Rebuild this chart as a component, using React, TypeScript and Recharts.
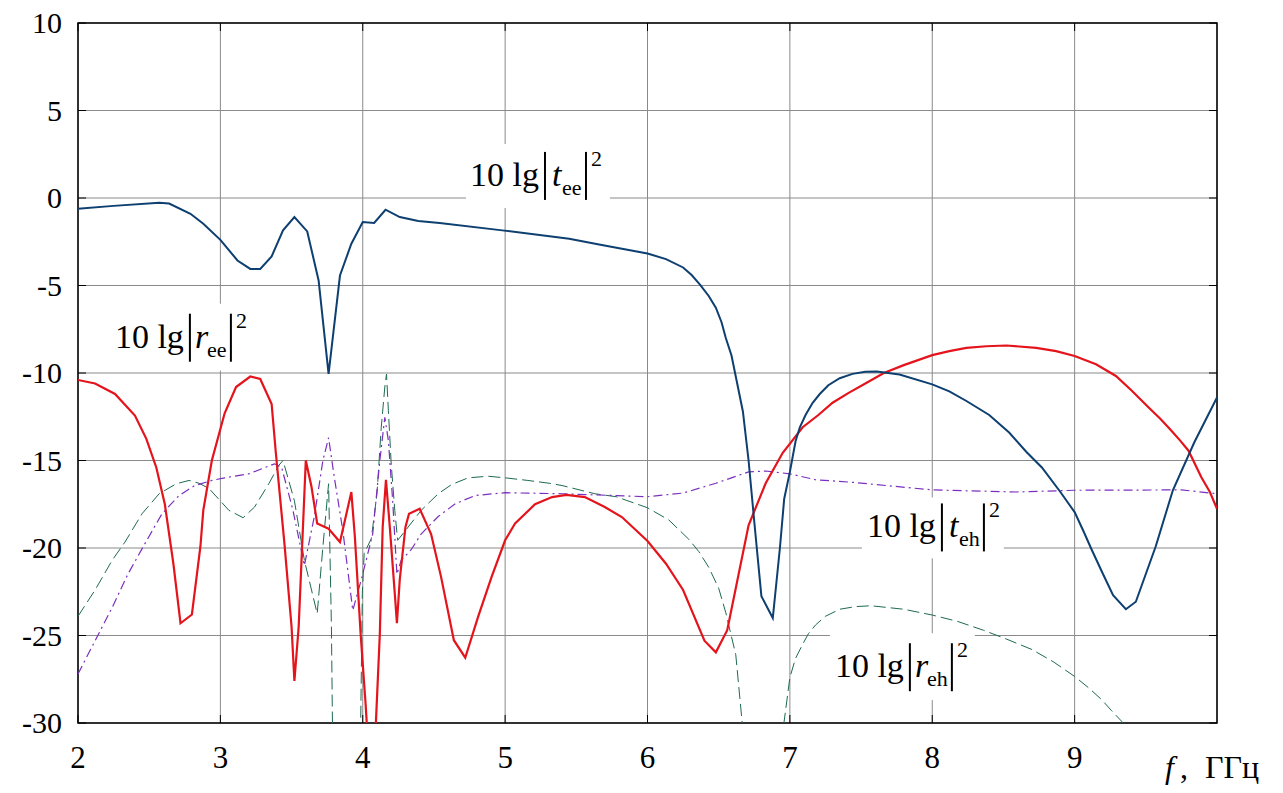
import React from "react";
import { LineChart, Line, XAxis, YAxis, CartesianGrid, ReferenceArea } from "recharts";

// |t_ee|^2, dB
const fTee = [2.0, 2.25, 2.57, 2.64, 2.79, 2.88, 3.0, 3.12, 3.21, 3.28, 3.36, 3.44, 3.52, 3.61, 3.69, 3.76, 3.84, 3.92, 4.0, 4.08, 4.16, 4.26, 4.39, 4.54, 4.98, 5.45, 5.66, 6.0, 6.13, 6.25, 6.31, 6.37, 6.43, 6.48, 6.52, 6.55, 6.59, 6.62, 6.67, 6.71, 6.75, 6.8, 6.88, 6.93, 6.96, 7.0, 7.04, 7.07, 7.11, 7.16, 7.21, 7.27, 7.35, 7.44, 7.53, 7.61, 7.77, 8.0, 8.12, 8.24, 8.4, 8.54, 8.66, 8.77, 8.9, 9.0, 9.06, 9.12, 9.2, 9.27, 9.36, 9.43, 9.57, 9.69, 9.84, 10.0];
const vTee = [-0.61, -0.45, -0.27, -0.32, -0.9, -1.47, -2.39, -3.57, -4.05, -4.05, -3.34, -1.85, -1.09, -1.91, -4.71, -10.05, -4.43, -2.61, -1.37, -1.43, -0.67, -1.09, -1.32, -1.43, -1.85, -2.33, -2.66, -3.17, -3.49, -3.97, -4.4, -4.96, -5.6, -6.27, -7.1, -8.0, -9.0, -10.2, -12.2, -15.0, -18.5, -22.75, -24.0, -20.0, -17.2, -15.65, -13.9, -13.1, -12.4, -11.7, -11.2, -10.7, -10.3, -10.05, -9.93, -9.92, -10.09, -10.65, -11.05, -11.6, -12.4, -13.4, -14.5, -15.4, -16.8, -17.95, -19.0, -20.1, -21.5, -22.7, -23.5, -23.07, -19.9, -16.7, -13.97, -11.4];

// |r_ee|^2, dB
const fRee = [2.0, 2.12, 2.26, 2.4, 2.48, 2.55, 2.61, 2.67, 2.72, 2.8, 2.86, 2.88, 2.94, 3.03, 3.11, 3.21, 3.28, 3.36, 3.39, 3.45, 3.5, 3.52, 3.55, 3.58, 3.6, 3.64, 3.68, 3.76, 3.84, 3.92, 3.945, 3.985, 4.02, 4.065, 4.12, 4.14, 4.163, 4.19, 4.225, 4.24, 4.26, 4.3, 4.325, 4.4, 4.48, 4.55, 4.64, 4.72, 4.81, 4.905, 5.0, 5.07, 5.21, 5.33, 5.43, 5.56, 5.7, 5.82, 6.0, 6.13, 6.25, 6.4, 6.48, 6.56, 6.71, 6.83, 6.95, 7.09, 7.2, 7.3, 7.41, 7.53, 7.66, 7.8, 8.0, 8.12, 8.24, 8.38, 8.52, 8.73, 8.87, 9.0, 9.15, 9.29, 9.4, 9.52, 9.6, 9.68, 9.74, 9.8, 9.89, 9.95, 10.0];
const vRee = [-10.4, -10.6, -11.2, -12.43, -13.76, -15.4, -17.5, -20.9, -24.3, -23.8, -19.9, -17.85, -15.0, -12.3, -10.8, -10.2, -10.34, -11.77, -14.6, -19.75, -24.5, -27.6, -24.5, -18.8, -15.0, -16.5, -18.6, -18.9, -19.66, -16.8, -19.4, -24.9, -28.9, -35, -24.9, -18.8, -16.1, -18.8, -22.6, -24.3, -21.8, -18.8, -18.04, -17.76, -19.2, -21.65, -25.27, -26.27, -23.94, -21.65, -19.56, -18.6, -17.5, -17.09, -16.96, -17.09, -17.66, -18.23, -19.6, -20.9, -22.4, -25.3, -25.96, -24.7, -18.7, -16.3, -14.56, -13.1, -12.4, -11.7, -11.15, -10.6, -10.0, -9.55, -8.98, -8.75, -8.56, -8.47, -8.43, -8.56, -8.75, -9.03, -9.5, -10.17, -11.0, -11.97, -12.6, -13.3, -13.85, -14.44, -15.96, -16.8, -17.76];

// |r_eh|^2, dB
const fReh = [2.0, 2.12, 2.24, 2.33, 2.45, 2.57, 2.69, 2.78, 2.85, 2.92, 3.01, 3.06, 3.16, 3.24, 3.34, 3.41, 3.44, 3.52, 3.59, 3.68, 3.72, 3.76, 3.78, 3.8, 3.97, 3.997, 4.01, 4.06, 4.1, 4.13, 4.155, 4.167, 4.18, 4.2, 4.225, 4.245, 4.3, 4.41, 4.53, 4.625, 4.74, 4.88, 5.0, 5.16, 5.31, 5.4, 5.63, 5.78, 6.0, 6.15, 6.29, 6.36, 6.43, 6.5, 6.55, 6.62, 6.7, 6.91, 7.0, 7.04, 7.09, 7.13, 7.18, 7.25, 7.35, 7.46, 7.57, 7.8, 8.0, 8.18, 8.36, 8.52, 8.7, 8.85, 9.0, 9.1, 9.19, 9.26, 9.33, 9.45];
const vReh = [-23.9, -22.4, -20.7, -19.66, -18.04, -16.9, -16.33, -16.14, -16.3, -16.6, -17.4, -17.85, -18.27, -17.66, -16.33, -15.28, -15.0, -17.3, -20.7, -23.75, -19.94, -16.33, -24.5, -40, -40, -22.6, -20.3, -19.47, -16.9, -13.1, -10.8, -10.06, -12.15, -15.2, -17.85, -19.56, -19.0, -17.85, -16.9, -16.37, -15.99, -15.9, -15.99, -16.14, -16.3, -16.43, -16.9, -17.07, -17.7, -18.4, -19.5, -20.2, -21.1, -22.3, -23.7, -26.1, -33, -33, -27.4, -26.3, -25.5, -24.9, -24.4, -23.9, -23.5, -23.35, -23.3, -23.5, -23.83, -24.2, -24.7, -25.2, -25.8, -26.5, -27.34, -28.0, -28.67, -29.3, -29.9, -32];

// |t_eh|^2, dB
const fTeh = [2.0, 2.12, 2.24, 2.35, 2.47, 2.59, 2.71, 2.82, 2.94, 3.03, 3.2, 3.38, 3.43, 3.51, 3.59, 3.66, 3.72, 3.76, 3.8, 3.86, 3.93, 3.99, 4.07, 4.12, 4.155, 4.18, 4.21, 4.24, 4.27, 4.34, 4.41, 4.53, 4.65, 4.79, 5.0, 5.4, 6.0, 6.25, 6.48, 6.71, 6.83, 7.0, 7.18, 7.43, 8.0, 8.59, 9.0, 9.75, 10.0];
const vTeh = [-27.2, -25.3, -23.4, -21.5, -19.75, -18.04, -17.0, -16.43, -16.14, -15.99, -15.76, -15.19, -15.38, -17.85, -21.0, -18.2, -15.0, -13.7, -15.95, -19.0, -23.56, -21.8, -19.2, -15.0, -12.53, -13.86, -17.28, -21.5, -20.7, -20.1, -19.2, -18.2, -17.47, -17.0, -16.84, -16.9, -17.07, -16.86, -16.3, -15.65, -15.6, -15.76, -16.1, -16.24, -16.68, -16.8, -16.7, -16.68, -16.9];

const xTicks = [2, 3, 4, 5, 6, 7, 8, 9];
const yTicks = [-30, -25, -20, -15, -10, -5, 0, 5, 10];

const toRows = (f: number[], v: number[]) => f.map((x, i) => ({ f: x, v: v[i] }));
const teeData = toRows(fTee, vTee);
const reeData = toRows(fRee, vRee);
const rehData = toRows(fReh, vReh);
const tehData = toRows(fTeh, vTeh);

const FONT = "'Liberation Serif', 'DejaVu Serif', serif";
const PLOT_W = 1139;
const PLOT_H = 700;

const YTick = (props: any) => {
  const { x, y, payload } = props;
  return (
    <g>
      <line x1={x} x2={x + 8} y1={y} y2={y} stroke="#000" strokeWidth={1} />
      <line x1={x + PLOT_W - 8} x2={x + PLOT_W} y1={y} y2={y} stroke="#000" strokeWidth={1} />
      <text x={x - 16} y={y} dy={10} textAnchor="end" fontFamily={FONT} fontSize={30} fill="#000">
        {payload.value}
      </text>
    </g>
  );
};

const XTick = (props: any) => {
  const { x, y, payload } = props;
  return (
    <g>
      <line x1={x} x2={x} y1={y} y2={y - 8} stroke="#000" strokeWidth={1} />
      <line x1={x} x2={x} y1={y - PLOT_H} y2={y - PLOT_H + 8} stroke="#000" strokeWidth={1} />
      <text x={x} y={y + 45} textAnchor="middle" fontFamily={FONT} fontSize={31} fill="#000">
        {payload.value}
      </text>
    </g>
  );
};

const AxisTitle = (props: any) => {
  const vb = props.viewBox || { x: 78, y: 723, width: PLOT_W, height: 70 };
  const x0 = vb.x + vb.width - 52;
  const b = vb.y + 55;
  return (
    <g fontFamily={FONT} fill="#000">
      <text x={x0} y={b} fontSize={32} fontStyle="italic">f</text>
      <text x={x0 + 15} y={b} fontSize={32}>,</text>
      <text x={x0 + 40} y={b} fontSize={32}>ГГц</text>
    </g>
  );
};

const Formula = (props: any) => {
  const { viewBox, sym, sub, tx, tb } = props;
  if (!viewBox) return null;
  const { x, y, width, height } = viewBox;
  const x0 = x + tx;
  const b = y + tb;
  const symX = x0 + (sym === "t" ? 82 : 80);
  const symW = sym === "t" ? 10 : 12;
  const subX = symX + symW;
  const subW = sub === "ee" ? 20 : 21;
  const bar2 = subX + subW + 4;
  return (
    <g fontFamily={FONT} fill="#000">
      <rect x={x} y={y} width={width} height={height} fill="#fff" stroke="none" />
      <text x={x0} y={b} fontSize={34}>10 lg</text>
      <line x1={x0 + 75} x2={x0 + 75} y1={b - 34} y2={b + 14} stroke="#000" strokeWidth={2} />
      <text x={symX} y={b} fontSize={34} fontStyle="italic">{sym}</text>
      <text x={subX} y={b + 9} fontSize={22}>{sub}</text>
      <line x1={bar2} x2={bar2} y1={b - 34} y2={b + 14} stroke="#000" strokeWidth={2} />
      <text x={bar2 + 5} y={b - 20} fontSize={22}>2</text>
    </g>
  );
};

export default function App() {
  return (
    <div style={{ position: "absolute", left: 0, top: 0, width: 1283, height: 793, background: "#fff" }}>
      <LineChart width={1283} height={793} margin={{ top: 23, right: 66, bottom: 0, left: 0 }}>
        <CartesianGrid stroke="#8a8a8a" strokeWidth={1} />
        <XAxis
          type="number"
          dataKey="f"
          domain={[2, 10]}
          ticks={xTicks}
          allowDataOverflow
          height={70}
          tickSize={0}
          tickMargin={0}
          axisLine={false}
          tickLine={false}
          tick={<XTick />}
          label={<AxisTitle />}
        />
        <YAxis
          type="number"
          domain={[-30, 10]}
          ticks={yTicks}
          allowDataOverflow
          width={78}
          tickSize={0}
          tickMargin={0}
          axisLine={false}
          tickLine={false}
          tick={<YTick />}
        />
        <ReferenceArea x1={4.725} x2={5.736} y1={-0.57} y2={3.09} fill="#fff" fillOpacity={0} stroke="none"
          label={<Formula sym="t" sub="ee" tx={4} tb={42} />} />
        <ReferenceArea x1={2.21} x2={3.21} y1={-9.86} y2={-6.04} fill="#fff" fillOpacity={0} stroke="none"
          label={<Formula sym="r" sub="ee" tx={7} tb={44} />} />
        <ReferenceArea x1={7.506} x2={8.503} y1={-20.59} y2={-17.11} fill="#fff" fillOpacity={0} stroke="none"
          label={<Formula sym="t" sub="eh" tx={5} tb={40} />} />
        <ReferenceArea x1={7.281} x2={8.299} y1={-28.69} y2={-24.87} fill="#fff" fillOpacity={0} stroke="none"
          label={<Formula sym="r" sub="eh" tx={5} tb={44} />} />
        <Line data={rehData} dataKey="v" type="linear" stroke="#1d6b50" strokeWidth={1} strokeDasharray="12 5" dot={false} isAnimationActive={false} />
        <Line data={tehData} dataKey="v" type="linear" stroke="#7b2fbe" strokeWidth={1.2} strokeDasharray="9 4 2 4" dot={false} isAnimationActive={false} />
        <Line data={reeData} dataKey="v" type="linear" stroke="#e4141c" strokeWidth={2.2} dot={false} isAnimationActive={false} />
        <Line data={teeData} dataKey="v" type="linear" stroke="#0d3f70" strokeWidth={2} dot={false} isAnimationActive={false} />
        <ReferenceArea x1={2} x2={10} y1={-30} y2={10} fill="none" fillOpacity={0} stroke="#000" strokeWidth={1.5} />
      </LineChart>
    </div>
  );
}
